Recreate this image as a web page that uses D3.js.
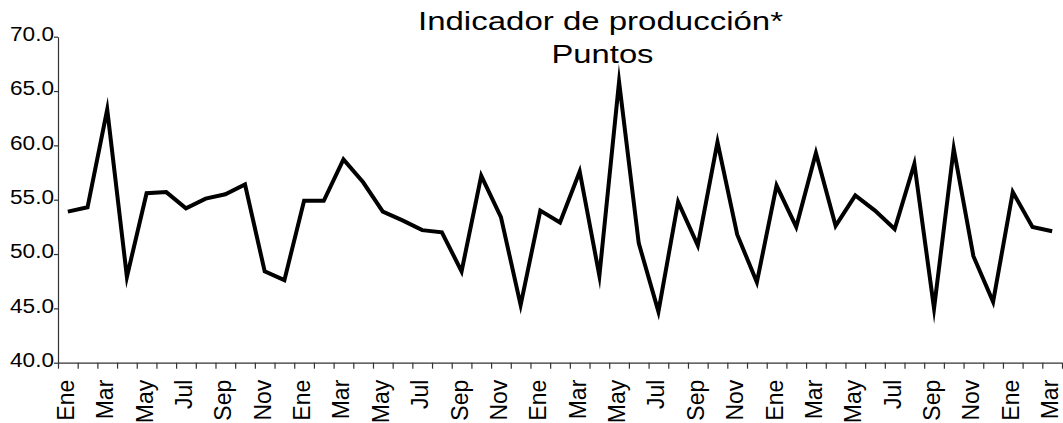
<!DOCTYPE html>
<html>
<head>
<meta charset="utf-8">
<script src="https://cdn.jsdelivr.net/npm/d3@7"></script>
<style>
  html, body { margin: 0; padding: 0; background: #fff; }
  svg { display: block; font-family: "Liberation Sans", Arial, sans-serif; }
</style>
</head>
<body>
<svg id="chart" width="1063" height="423"></svg>
<script>
// ---- data ----
const titleLines = ["Indicador de producción*", "Puntos"];
const monthNames = ["Ene","Feb","Mar","Abr","May","Jun","Jul","Ago","Sep","Oct","Nov","Dic"];
const nMonths = 51;
const categories = d3.range(nMonths).map(i => monthNames[i % 12] + " " + (Math.floor(i / 12) + 1));
const values = [53.9, 54.3, 63.3, 47.9, 55.6, 55.7, 54.2, 55.1, 55.5, 56.4, 48.4, 47.6,
                54.9, 54.9, 58.7, 56.6, 53.9, 53.1, 52.2, 52.0, 48.4, 57.2, 53.4, 45.3,
                54.0, 52.9, 57.6, 48.0, 65.85, 51.0, 44.7, 54.8, 50.8, 60.3, 51.8, 47.4,
                56.3, 52.5, 59.3, 52.6, 55.4, 54.0, 52.3, 58.3, 45.0, 59.7, 49.8, 45.6,
                55.7, 52.5, 52.1];
const yTicks = [40, 45, 50, 55, 60, 65, 70];

// ---- layout ----
const svg = d3.select("#chart");
const mLeft = 58, mRight = 1062, mTop = 36.7, mBottom = 362.7;

const x = d3.scaleBand().domain(categories).range([mLeft, mRight]).padding(0);
const xEdge = d3.scaleLinear().domain([0, nMonths]).range([mLeft, mRight]);
const y = d3.scaleLinear().domain([40, 70]).range([mBottom, mTop]);

// y axis
const yAxis = svg.append("g")
  .attr("transform", `translate(${mLeft},0)`)
  .call(d3.axisLeft(y).tickValues(yTicks).tickFormat(d3.format(".1f")).tickSize(4).tickSizeOuter(0).tickPadding(0));
yAxis.select(".domain").attr("stroke", "#333").attr("stroke-width", 1.2);
yAxis.selectAll(".tick line").attr("stroke", "#333").attr("stroke-width", 1.2);
yAxis.selectAll(".tick text")
  .attr("font-size", 19.5)
  .attr("fill", "#000")
  .attr("x", -4)
  .attr("dy", "0.2em")
  .attr("textLength", 44)
  .attr("lengthAdjust", "spacingAndGlyphs")
  .style("font-family", "'Liberation Sans', Arial, sans-serif");

// x axis: tick marks at month boundaries
const xTickAxis = svg.append("g")
  .attr("transform", `translate(0,${mBottom})`)
  .call(d3.axisBottom(xEdge).tickValues(d3.range(nMonths + 1)).tickFormat("").tickSize(6).tickSizeOuter(0));
xTickAxis.select(".domain").attr("stroke", "#333").attr("stroke-width", 1.2);
xTickAxis.selectAll(".tick line").attr("stroke", "#333").attr("stroke-width", 1.2);

// x axis: labels at band centres, every other month
const xLabelAxis = svg.append("g")
  .attr("transform", `translate(0,${mBottom})`)
  .call(d3.axisBottom(x)
    .tickValues(categories.filter((d, i) => i % 2 === 0))
    .tickFormat(d => d.split(" ")[0])
    .tickSize(0).tickSizeOuter(0));
xLabelAxis.select(".domain").remove();
xLabelAxis.selectAll(".tick text")
  .attr("font-size", 23)
  .attr("fill", "#000")
  .attr("text-anchor", "end")
  .attr("transform", "rotate(-90)")
  .attr("x", -17)
  .attr("y", 0)
  .attr("dy", "0.26em")
  .style("font-family", "'Liberation Sans', Arial, sans-serif");

// line
const line = d3.line()
  .x((d, i) => x(categories[i]) + x.bandwidth() / 2)
  .y(d => y(d));

svg.append("path")
  .datum(values)
  .attr("fill", "none")
  .attr("stroke", "#000")
  .attr("stroke-width", 4)
  .attr("stroke-linejoin", "miter")
  .attr("stroke-miterlimit", 30)
  .attr("d", line);

// title
const title = svg.append("g").attr("font-size", 26).attr("fill", "#000").attr("text-anchor", "middle");
title.append("text").attr("x", 600.5).attr("y", 30).attr("textLength", 365).attr("lengthAdjust", "spacingAndGlyphs").text(titleLines[0]);
title.append("text").attr("x", 602.5).attr("y", 62.7).attr("textLength", 102).attr("lengthAdjust", "spacingAndGlyphs").text(titleLines[1]);
</script>
</body>
</html>
